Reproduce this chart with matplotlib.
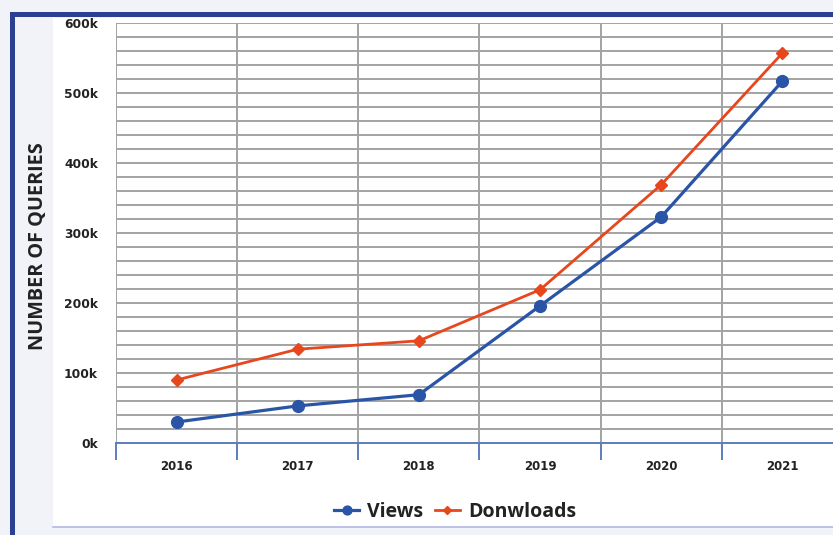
import matplotlib

matplotlib.use("Agg")
import matplotlib.pyplot as plt  # noqa: E402
from matplotlib.patches import Rectangle  # noqa: E402
from matplotlib.lines import Line2D  # noqa: E402
from matplotlib.ticker import FuncFormatter, MultipleLocator  # noqa: E402

# dados (em milhares)
anos = ["2016", "2017", "2018", "2019", "2020", "2021"]
views = [30, 53, 69, 196, 323, 517]
downloads = [90, 134, 146, 219, 369, 557]
y_ticks = [0, 100, 200, 300, 400, 500, 600]

AZUL = "#2a55a6"
LARANJA = "#e8461c"
GRADE = "#a3a3a3"
FUNDO = "#f2f3f8"
BORDA = "#2b3f93"

W, H = 833, 535
fig = plt.figure(figsize=(W / 100, H / 100), dpi=100, facecolor=FUNDO)


def px(x, y, w, h):
    # retângulo em pixels (origem no topo) -> coordenadas da figura
    return (x / W, 1 - (y + h) / H, w / W, h / H)


def caixa(x, y, w, h, cor):
    r = px(x, y, w, h)
    fig.patches.append(Rectangle(r[:2], r[2], r[3], transform=fig.transFigure,
                                 facecolor=cor, edgecolor="none", zorder=-2))


# painel branco + moldura azul
caixa(53, 18, 780, 509, "white")
caixa(10, 12, 823, 5, BORDA)
caixa(10, 12, 5, 523, BORDA)
fig.lines.append(Line2D([53 / W, 1], [1 - 527 / H, 1 - 527 / H], transform=fig.transFigure,
                        color="#b3b9e2", linewidth=1.2, zorder=-1))

ax = fig.add_axes(px(116, 23, 727, 420))
ax.set_zorder(1)
ax.set_facecolor("none")
x = range(len(anos))
ax.plot(x, views, color=AZUL, linewidth=2.3, marker="o", markersize=8.5, zorder=3, clip_on=False,
        label="Views")
ax.plot(x, downloads, color=LARANJA, linewidth=2.0, marker="D", markersize=6, zorder=3, clip_on=False,
        label="Donwloads")

ax.set_xlim(-0.5, len(anos) - 0.5)
ax.set_ylim(0, 600)
ax.set_xticks(list(x))
ax.set_xticklabels(anos)
ax.set_xticks([i - 0.5 for i in range(len(anos) + 1)], minor=True)
ax.set_yticks(y_ticks)
ax.yaxis.set_minor_locator(MultipleLocator(20))
ax.yaxis.set_major_formatter(FuncFormatter(lambda v, _: f"{int(v)}k"))

ax.grid(True, which="minor", color=GRADE, linewidth=1.4)
ax.grid(True, which="major", axis="y", color=GRADE, linewidth=1.4)
ax.set_axisbelow(True)

for s in ("top", "right", "left"):
    ax.spines[s].set_visible(False)
ax.spines["bottom"].set_color("#5b7fbd")
ax.spines["bottom"].set_linewidth(1.4)

ax.tick_params(axis="x", which="major", length=0, pad=12, labelsize=8.5, labelcolor="#222222")
ax.tick_params(axis="x", which="minor", length=12, width=1.4, color="#5b7fbd", direction="out")
ax.tick_params(axis="y", which="both", length=0, pad=13, labelsize=8.8, labelcolor="#222222")
for t in ax.get_xticklabels() + ax.get_yticklabels():
    t.set_fontweight("bold")

fig.text(38 / W, 1 - 246 / H, "NUMBER OF QUERIES", rotation=90, ha="center", va="center",
         fontsize=14.3, fontweight="bold", family="Open Sans", color="#222222")

leg = fig.legend(loc="center", bbox_to_anchor=(455 / W, 1 - 512 / H), ncol=2, frameon=False,
                 handlelength=1.3, handletextpad=0.4, columnspacing=0.6, markerscale=0.75,
                 prop={"family": "Open Sans", "weight": "bold", "size": 14})
for t in leg.get_texts():
    t.set_color("#222222")

fig.savefig("out.png", dpi=100, facecolor=FUNDO)
